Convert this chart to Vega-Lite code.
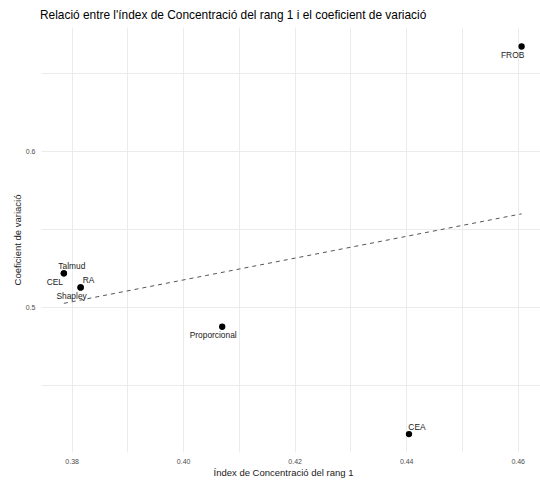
{
  "$schema": "https://vega.github.io/schema/vega-lite/v6.json",
  "width": 499,
  "height": 425,
  "autosize": {"type": "none"},
  "padding": {"left": 41, "top": 27, "right": 0, "bottom": 28},
  "background": "white",
  "title": {
    "text": "Relació entre l'índex de Concentració del rang 1 i el coeficient de variació",
    "anchor": "start",
    "frame": "group",
    "font": "Liberation Sans",
    "fontSize": 11.9,
    "fontWeight": "normal",
    "color": "#000000",
    "offset": 5,
    "dx": -1
  },
  "config": {
    "view": {"stroke": null},
    "axis": {
      "domain": false,
      "ticks": false,
      "gridColor": "#ebebeb",
      "gridWidth": 1,
      "labelFont": "Liberation Sans",
      "labelFontSize": 7,
      "labelColor": "#4d4d4d",
      "titleFont": "Liberation Sans",
      "titleFontSize": 9.5,
      "titleFontWeight": "normal",
      "titleColor": "#1a1a1a"
    }
  },
  "data": {
    "values": [
      {"metode": "FROB", "ic": 0.4607, "cv": 0.667},
      {"metode": "Talmud", "ic": 0.3786, "cv": 0.5216},
      {"metode": "CEL", "ic": 0.3786, "cv": 0.5216},
      {"metode": "RA", "ic": 0.3816, "cv": 0.5126},
      {"metode": "Shapley", "ic": 0.3816, "cv": 0.5126},
      {"metode": "Proporcional", "ic": 0.407, "cv": 0.4874},
      {"metode": "CEA", "ic": 0.4405, "cv": 0.4186}
    ]
  },
  "encoding": {
    "x": {
      "field": "ic",
      "type": "quantitative",
      "scale": {"domain": [0.3745, 0.464], "nice": false, "zero": false},
      "axis": {
        "title": "Índex de Concentració del rang 1",
        "values": [0.37, 0.38, 0.39, 0.4, 0.41, 0.42, 0.43, 0.44, 0.45, 0.46],
        "format": ".2f",
        "labelExpr": "indexof(['0.38','0.40','0.42','0.44','0.46'], datum.label) >= 0 ? datum.label : ''",
        "labelPadding": 5,
        "titlePadding": 3,
        "titleX": 242
      }
    },
    "y": {
      "field": "cv",
      "type": "quantitative",
      "scale": {"domain": [0.4071, 0.6795], "nice": false, "zero": false},
      "axis": {
        "title": "Coeficient de variació",
        "values": [0.45, 0.5, 0.55, 0.6, 0.65],
        "format": ".2f",
        "labelExpr": "datum.label == '0.50' ? '0.5' : (datum.label == '0.60' ? '0.6' : '')",
        "labelPadding": 6,
        "titlePadding": 3
      }
    }
  },
  "layer": [
    {
      "transform": [{"regression": "cv", "on": "ic"}],
      "mark": {"type": "line", "color": "#555555", "strokeWidth": 1, "strokeDash": [4, 4]}
    },
    {
      "mark": {"type": "circle", "size": 40, "color": "#000000", "opacity": 1}
    },
    {
      "transform": [{"filter": "indexof(['Talmud','RA','CEA'], datum.metode) >= 0"}],
      "mark": {"type": "text", "font": "Liberation Sans", "fontSize": 8.4, "color": "#222222", "dx": 8, "dy": -7, "baseline": "middle", "align": "center"},
      "encoding": {"text": {"field": "metode"}}
    },
    {
      "transform": [{"filter": "indexof(['Talmud','RA','CEA'], datum.metode) < 0"}],
      "mark": {"type": "text", "font": "Liberation Sans", "fontSize": 8.4, "color": "#222222", "dx": -9, "dy": 8.5, "baseline": "middle", "align": "center"},
      "encoding": {"text": {"field": "metode"}}
    }
  ]
}
